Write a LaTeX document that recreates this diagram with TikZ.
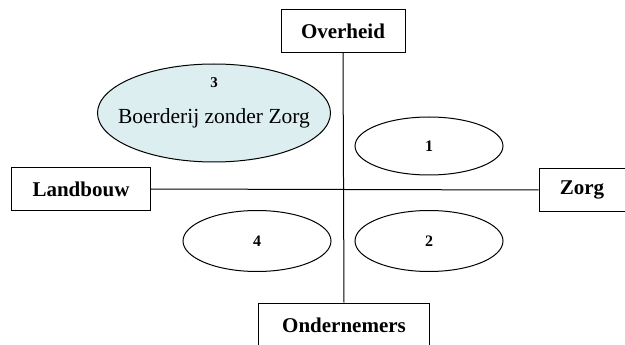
\documentclass[tikz,border=0pt]{standalone}
\usepackage{fontspec}
\setmainfont{Liberation Serif}
\usetikzlibrary{shapes.geometric}
\definecolor{paleblue}{RGB}{221,238,240}

\begin{document}
\begin{tikzpicture}[x=1pt,y=-1pt,line width=1pt]
        \tikzset{block/.style= {draw, rectangle, align=center,inner sep=0pt,font=\fontsize{21}{24}\selectfont\bfseries},
        oval/.style={draw, ellipse, align=center,inner sep=0pt,minimum width=148pt,minimum height=58pt,font=\fontsize{16}{18}\selectfont\bfseries},
        }
        \useasboundingbox (0,0) rectangle (625,345);
        \node [block, minimum width=124pt, minimum height=43pt] (overheid) at (343,31) {Overheid};
        \node [block, minimum width=139pt, minimum height=43pt] (landbouw) at (81,189) {Landbouw};
        \node [block, minimum width=86pt, minimum height=43pt] (zorg) at (582,190) {Zorg};
        \node [block, minimum width=171pt, minimum height=44pt] (ondernemers) at (344,325) {Ondernemers};

        \node [oval, fill=paleblue, minimum width=233pt, minimum height=98pt, font=\fontsize{21.5}{24}\selectfont,
               label={[anchor=center,label distance=-19pt,font=\fontsize{15}{17}\selectfont\bfseries]90:3}] (q3) at (214,113) {\makebox[0pt]{\raisebox{-11pt}[0pt][0pt]{Boerderij zonder Zorg}}};
        \node [oval] (q1) at (429,146) {1};
        \node [oval, minimum height=61pt] (q2) at (429,241) {2};
        \node [oval, minimum height=61pt] (q4) at (257,241) {4};

%% axes
        \draw (overheid.south) -- (ondernemers.north);
        \draw (landbouw.east) -- (zorg.west);
\end{tikzpicture}
\end{document}
